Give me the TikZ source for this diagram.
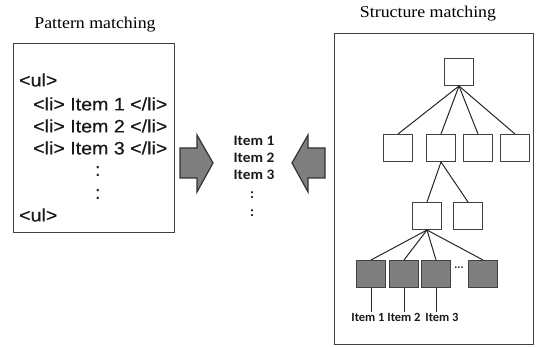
\documentclass[tikz,border=0pt]{standalone}
\usepackage{fontspec}
\setmainfont{Liberation Serif}
\newfontfamily\arial{Liberation Sans}
\newfontfamily\arialfb[FakeBold=0.5]{Liberation Sans}
\newfontfamily\calib{Carlito}
\definecolor{edgec}{HTML}{404040}
\definecolor{fillg}{HTML}{7F7F7F}
\begin{document}
\begin{tikzpicture}[x=1pt,y=-1pt,
  frame/.style={draw=edgec,line width=1.2pt,inner sep=0pt,anchor=north west},
  ttl/.style={font=\fontsize{16.5}{18}\selectfont,inner sep=0pt},
  code/.style={font=\arialfb\fontsize{18}{20}\selectfont,text=black!90,inner sep=0pt,anchor=west},
  mid/.style={font=\calib\bfseries\fontsize{14.5}{17}\selectfont,text=black!90,inner sep=0pt},
  tnode/.style={draw=edgec,fill=white,line width=1pt,minimum width=29pt,minimum height=27pt,inner sep=0pt},
  gnode/.style={tnode,fill=fillg},
  lab/.style={font=\calib\bfseries\fontsize{12.5}{14}\selectfont,text=black!90,inner sep=1pt,anchor=north},
  bigarrow/.style={draw=black!80,fill=fillg,line width=1.2pt,line join=miter},
  tedge/.style={draw=black!85,line width=1pt}]
\useasboundingbox (0,0) rectangle (536,347);
% left panel
\node[ttl] (ptitle) at (95,25) {\scalebox{1.08}[1]{Pattern matching}};
\node[frame,minimum width=161pt,minimum height=189pt] (pbox) at (13,43) {};
\node[code] (ul1) at (19,80) {\scalebox{1.09}[1]{<ul>}};
\node[code] (li1) at (33,104) {\scalebox{1.09}[1]{<li> Item 1 </li>}};
\node[code] (li2) at (33,126) {\scalebox{1.09}[1]{<li> Item 2 </li>}};
\node[code] (li3) at (33,148) {\scalebox{1.09}[1]{<li> Item 3 </li>}};
\node[code] (c1) at (95,171) {:};
\node[code] (c2) at (95,194) {:};
\node[code] (ul2) at (19,215) {\scalebox{1.09}[1]{<ul>}};
% arrows
\draw[bigarrow] (180,148) -- (197,148) -- (197,135) -- (213,163) -- (197,192) -- (197,178) -- (180,178) -- cycle;
\draw[bigarrow] (325,148) -- (308,148) -- (308,135) -- (292,163) -- (308,192) -- (308,178) -- (325,178) -- cycle;
% middle
\node[mid] (m1) at (254,141) {\scalebox{1.06}[1]{Item 1}};
\node[mid] (m2) at (254,158) {\scalebox{1.06}[1]{Item 2}};
\node[mid] (m3) at (254,175) {\scalebox{1.06}[1]{Item 3}};
\node[mid] (m4) at (252,195) {:};
\node[mid] (m5) at (252,213) {:};
% right panel
\node[ttl] (stitle) at (428,14) {\scalebox{1.08}[1]{Structure matching}};
\node[frame,minimum width=199pt,minimum height=311pt] (sbox) at (334,33) {};
\node[tnode] (r) at (459,72) {};
\node[tnode] (a1) at (398,148) {};
\node[tnode] (a2) at (441,148) {};
\node[tnode] (a3) at (478,148) {};
\node[tnode] (a4) at (515,148) {};
\node[tnode] (b1) at (427,216) {};
\node[tnode] (b2) at (468,216) {};
\node[gnode] (g1) at (371,274) {};
\node[gnode] (g2) at (404,274) {};
\node[gnode] (g3) at (436,274) {};
\node[gnode] (g4) at (483,274) {};
\node[font=\arial\bfseries\fontsize{11}{13}\selectfont,text=black!80,inner sep=0pt] (gd) at (459,268) {...};
\foreach \n in {a1,a2,a3,a4} \draw[tedge] (r.south) -- (\n.north);
\foreach \n in {b1,b2} \draw[tedge] (a2.south) -- (\n.north);
\foreach \n in {g1,g2,g3,g4} \draw[tedge] (b1.south) -- (\n.north);
\node[lab] (l1) at (368,312) {Item 1};
\node[lab] (l2) at (404,312) {Item 2};
\node[lab] (l3) at (442,312) {Item 3};
\draw[tedge] (g1.south) -- (g1.south |- l1.north);
\draw[tedge] (g2.south) -- (g2.south |- l2.north);
\draw[tedge] (g3.south) -- (g3.south |- l3.north);
\end{tikzpicture}
\end{document}
